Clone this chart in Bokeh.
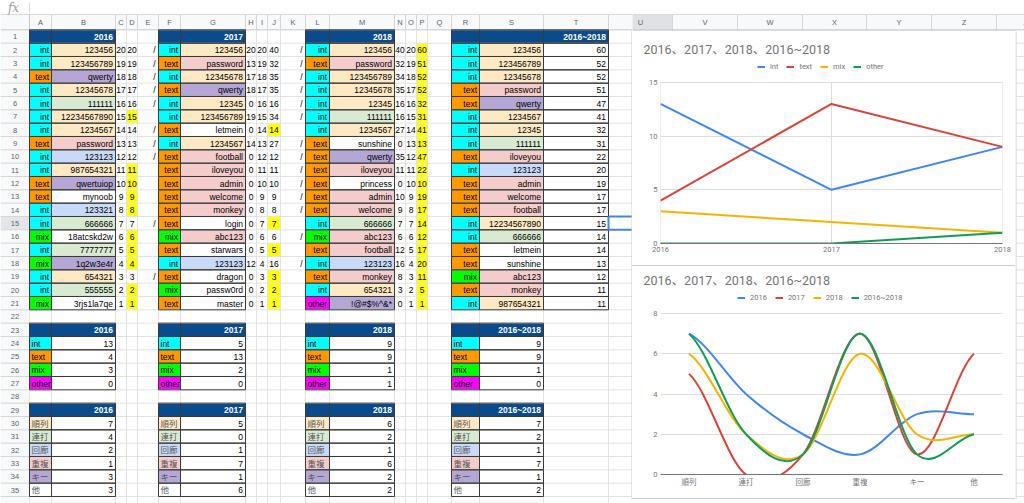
from bokeh.plotting import figure
from bokeh.models import Range1d, FixedTicker, Legend, LegendItem, Spacer
from bokeh.layouts import row, column
from bokeh.core.properties import value
from bokeh.embed import file_html
from bokeh.resources import INLINE

# ---------------------------------------------------------------- data
years = ["2016", "2017", "2018", "2016~2018"]

pw_2016 = ["123456", "123456789", "qwerty", "12345678", "111111", "12234567890", "1234567",
           "password", "123123", "987654321", "qwertuiop", "mynoob", "123321", "666666",
           "18atcskd2w", "7777777", "1q2w3e4r", "654321", "555555", "3rjs1la7qe"]
type_2016 = ["int", "int", "text", "int", "int", "int", "int", "text", "int", "int", "text",
             "text", "int", "int", "mix", "int", "mix", "int", "int", "mix"]
cat_2016 = ["順列", "順列", "キー", "順列", "連打", "順列", "順列", "重複", "回廊", "順列", "キー",
            "他", "回廊", "連打", "他", "連打", "キー", "順列", "連打", "他"]
c_2016 = [20, 19, 18, 17, 16, 15, 14, 13, 12, 11, 10, 9, 8, 7, 6, 5, 4, 3, 2, 1]
d_2016 = [20, 19, 18, 17, 16, 15, 14, 13, 12, 11, 10, 9, 8, 7, 6, 5, 4, 3, 2, 1]
mark_2016 = ["/", "/", "/", "/", "/", "", "/", "/", "/", "", "", "", "", "/", "", "", "", "/", "", ""]

pw_2017 = ["123456", "password", "12345678", "qwerty", "12345", "123456789", "letmein", "1234567",
           "football", "iloveyou", "admin", "welcome", "monkey", "login", "abc123", "starwars",
           "123123", "dragon", "passw0rd", "master"]
type_2017 = ["int", "text", "int", "text", "int", "int", "text", "int", "text", "text", "text",
             "text", "text", "text", "mix", "text", "int", "text", "mix", "text"]
cat_2017 = ["順列", "重複", "順列", "キー", "順列", "順列", "他", "順列", "重複", "重複", "重複",
            "重複", "重複", "他", "重複", "他", "回廊", "他", "他", "他"]
h_2017 = [20, 13, 17, 18, 0, 19, 0, 14, 0, 0, 0, 0, 0, 0, 0, 0, 12, 0, 0, 0]
i_2017 = [20, 19, 18, 17, 16, 15, 14, 13, 12, 11, 10, 9, 8, 7, 6, 5, 4, 3, 2, 1]
j_2017 = [40, 32, 35, 35, 16, 34, 14, 27, 12, 11, 10, 9, 8, 7, 6, 5, 16, 3, 2, 1]
mark_2017 = ["/", "/", "/", "/", "/", "/", "", "/", "/", "/", "/", "/", "/", "", "/", "", "/", "", "", ""]

pw_2018 = ["123456", "password", "123456789", "12345678", "12345", "111111", "1234567",
           "sunshine", "qwerty", "iloveyou", "princess", "admin", "welcome", "666666", "abc123",
           "football", "123123", "monkey", "654321", "!@#$%^&*"]
type_2018 = ["int", "text", "int", "int", "int", "int", "int", "text", "text", "text", "text",
             "text", "text", "int", "mix", "text", "int", "text", "int", "other"]
cat_2018 = ["順列", "重複", "順列", "順列", "順列", "連打", "順列", "他", "キー", "重複", "他",
            "重複", "重複", "連打", "重複", "重複", "回廊", "重複", "順列", "キー"]
n_2018 = [40, 32, 34, 35, 16, 16, 27, 0, 35, 11, 0, 10, 9, 7, 6, 12, 16, 8, 3, 0]
o_2018 = [20, 19, 18, 17, 16, 15, 14, 13, 12, 11, 10, 9, 8, 7, 6, 5, 4, 3, 2, 1]
p_2018 = [60, 51, 52, 52, 32, 31, 41, 13, 47, 22, 10, 19, 17, 14, 12, 17, 20, 11, 5, 1]

pw_all = ["123456", "123456789", "12345678", "password", "qwerty", "1234567", "12345", "111111",
          "iloveyou", "123123", "admin", "welcome", "football", "12234567890", "666666",
          "letmein", "sunshine", "abc123", "monkey", "987654321"]
type_all = ["int", "int", "int", "text", "text", "int", "int", "int", "text", "int", "text",
            "text", "text", "int", "int", "text", "text", "mix", "text", "int"]
cat_all = ["順列", "順列", "順列", "重複", "キー", "順列", "順列", "連打", "重複", "回廊", "重複",
           "重複", "重複", "順列", "連打", "他", "他", "重複", "重複", "順列"]
score_all = [60, 52, 52, 51, 47, 41, 32, 31, 22, 20, 19, 17, 17, 15, 14, 14, 13, 12, 11, 11]

type_labels = ["int", "text", "mix", "other"]
type_counts_2016 = [13, 4, 3, 0]
type_counts_2017 = [5, 13, 2, 0]
type_counts_2018 = [9, 9, 1, 1]
type_counts_all = [9, 9, 1, 0]

cat_labels = ["順列", "連打", "回廊", "重複", "キー", "他"]
cat_counts_2016 = [7, 4, 2, 1, 3, 3]
cat_counts_2017 = [5, 0, 1, 7, 1, 6]
cat_counts_2018 = [6, 2, 1, 6, 2, 2]
cat_counts_all = [7, 2, 1, 7, 1, 2]

chart1_years = [2016, 2017, 2018]
chart1_yticks = [0, 5, 10, 15]
chart2_yticks = [0, 2, 4, 6, 8]
chart_title = "2016、2017、2018、2016~2018"

# ---------------------------------------------------------------- styles
TYPE_COLORS = {"int": "#00ffff", "text": "#ff9900", "mix": "#00ff00", "other": "#ff00ff"}
CAT_COLORS = {"順列": "#fde9c4", "連打": "#d9ead3", "回廊": "#c9daf8", "重複": "#f4cccc",
              "キー": "#b4a7d6", "他": "#ffffff"}
HEAD = "#0b4a8b"
YEL = "#ffff00"
DARK = "#3a3a3a"
GRID = "#e2e3e3"
HDR_BG = "#f8f9fa"
HDR_LINE = "#c6c6c6"
BOX = "#cfcfcf"
FONT = "'Liberation Sans', 'Noto Sans CJK JP', sans-serif"
UIFONT = "Roboto, 'Noto Sans CJK JP', sans-serif"
SERIES = ["#4285f4", "#db4437", "#f4b400", "#0f9d58"]

COLS = ["A", "B", "C", "D", "E", "F", "G", "H", "I", "J", "K", "L", "M", "N", "O", "P", "Q",
        "R", "S", "T", "U"]
EDGES = [29, 51, 115, 126, 137, 158, 180, 245, 256, 267, 280, 305, 329, 394, 405, 416, 427,
         451, 479, 543, 608, 672]


def cl(c):
    return EDGES[COLS.index(c)]


def cr(c):
    return EDGES[COLS.index(c) + 1]


def cm(c):
    return (cl(c) + cr(c)) / 2


ROW0 = 29.33
RH = 13.333


def rt(n):
    return ROW0 + (n - 1) * RH


def rb(n):
    return rt(n) + RH


def rm(n):
    return rt(n) + RH / 2 + 0.4


def blank_fig(w, h, xr, yr):
    f = figure(width=w, height=h, x_range=Range1d(*xr), y_range=Range1d(*yr),
               output_backend="svg", toolbar_location=None, min_border=0,
               x_axis_location=None, y_axis_location=None)
    f.grid.visible = False
    f.outline_line_color = None
    f.background_fill_color = "white"
    f.border_fill_color = "white"
    return f


# ---------------------------------------------------------------- sheet figure
sheet = blank_fig(632, 503, (0, 632), (503, 0))

Q = {"l": [], "r": [], "t": [], "b": [], "c": []}


def quad(l, r, t, b, color):
    Q["l"].append(l); Q["r"].append(r); Q["t"].append(t); Q["b"].append(b); Q["c"].append(color)


def fill(c, n, color):
    quad(cl(c), cr(c), rt(n), rb(n), color)


SEG = {}


def seg(x0, y0, x1, y1, color, w=1):
    d = SEG.setdefault((color, w), {"x0": [], "y0": [], "x1": [], "y1": []})
    d["x0"].append(x0); d["y0"].append(y0); d["x1"].append(x1); d["y1"].append(y1)


def box(c, n):
    l, r, t, b = cl(c), cr(c), rt(n), rb(n)
    seg(l, t, r, t, DARK); seg(l, b, r, b, DARK); seg(l, t, l, b, DARK); seg(r, t, r, b, DARK)


TX = {}


def txt(x, y, s, align="left", color="#000000", style="normal", size="8.5px", font=FONT):
    d = TX.setdefault((align, color, style, size, font), {"x": [], "y": [], "t": []})
    d["x"].append(x); d["y"].append(y); d["t"].append(str(s))


def right(c, n, s, **kw):
    txt(cr(c) - 2.5, rm(n), s, align="right", **kw)


def left(c, n, s, **kw):
    txt(cl(c) + 2, rm(n), s, align="left", **kw)


def center(c, n, s, **kw):
    txt(cm(c), rm(n), s, align="center", **kw)


# formula bar + headers
quad(0, 640, 0, 14, "white")
quad(0, 640, 14, ROW0, HDR_BG)
quad(0, 29, ROW0, 510, HDR_BG)
quad(0, 29, rt(15), rb(15), "#e3e5e8")
seg(29, 2, 29, 12, "#dadce0")
txt(13, 7, "fx", align="center", color="#a0a0a0", style="italic", size="12px",
    font="'DejaVu Serif', serif")
seg(0, 14, 640, 14, "#dadce0")
for e in EDGES:
    seg(e, 14, e, ROW0, "#d6d6d6")
for c in COLS[:-1]:
    txt(cm(c), 21.8, c, align="center", color="#5f6368", size="7.5px")
for n in range(1, 37):
    seg(0, rb(n), 29, rb(n), "#d6d6d6")
for n in range(1, 36):
    txt(14.5, rm(n), n, align="center", color="#5f6368", size="7.5px")
seg(0, ROW0, 640, ROW0, HDR_LINE)
seg(29, 14, 29, 510, HDR_LINE)

# spreadsheet grid
for e in EDGES:
    seg(e, ROW0, e, 510, GRID)
for n in range(1, 37):
    seg(29, rb(n), 640, rb(n), GRID)

# ---- main tables (rows 1-21)
for cols in (["A", "B"], ["F", "G"], ["L", "M"], ["R", "S", "T"]):
    for c in cols:
        fill(c, 1, HEAD)
        box(c, 1)
right("B", 1, years[0], color="white", style="bold")
right("G", 1, years[1], color="white", style="bold")
right("M", 1, years[2], color="white", style="bold")
right("T", 1, years[3], color="white", style="bold")

for i in range(20):
    n = i + 2
    fill("A", n, TYPE_COLORS[type_2016[i]])
    fill("B", n, CAT_COLORS[cat_2016[i]])
    if mark_2016[i] == "":
        fill("D", n, YEL)
    box("A", n); box("B", n)
    right("A", n, type_2016[i]); right("B", n, pw_2016[i])
    center("C", n, c_2016[i]); center("D", n, d_2016[i])
    txt(cr("E") - 3, rm(n), mark_2016[i], align="right")

    fill("F", n, TYPE_COLORS[type_2017[i]])
    fill("G", n, CAT_COLORS[cat_2017[i]])
    if mark_2017[i] == "":
        fill("J", n, YEL)
    box("F", n); box("G", n)
    right("F", n, type_2017[i]); right("G", n, pw_2017[i])
    center("H", n, h_2017[i]); center("I", n, i_2017[i]); center("J", n, j_2017[i])
    txt(cr("K") - 3, rm(n), mark_2017[i], align="right")

    fill("L", n, TYPE_COLORS[type_2018[i]])
    fill("M", n, CAT_COLORS[cat_2018[i]])
    fill("P", n, YEL)
    box("L", n); box("M", n)
    right("L", n, type_2018[i]); right("M", n, pw_2018[i])
    center("N", n, n_2018[i]); center("O", n, o_2018[i]); center("P", n, p_2018[i])

    fill("R", n, TYPE_COLORS[type_all[i]])
    fill("S", n, CAT_COLORS[cat_all[i]])
    fill("T", n, "white")
    box("R", n); box("S", n); box("T", n)
    right("R", n, type_all[i]); right("S", n, pw_all[i]); right("T", n, score_all[i])

# ---- summary tables
summaries = [("A", "B", years[0], type_counts_2016, cat_counts_2016),
             ("F", "G", years[1], type_counts_2017, cat_counts_2017),
             ("L", "M", years[2], type_counts_2018, cat_counts_2018),
             ("R", "S", years[3], type_counts_all, cat_counts_all)]
for lc, vc, yr, tc, cc in summaries:
    for hr in (23, 29):
        fill(lc, hr, HEAD); fill(vc, hr, HEAD)
        box(lc, hr); box(vc, hr)
        right(vc, hr, yr, color="white", style="bold")
    for k, lab in enumerate(type_labels):
        n = 24 + k
        fill(lc, n, TYPE_COLORS[lab]); fill(vc, n, "white")
        box(lc, n); box(vc, n)
        left(lc, n, lab); right(vc, n, tc[k])
    for k, lab in enumerate(cat_labels):
        n = 30 + k
        fill(lc, n, CAT_COLORS[lab]); fill(vc, n, "white")
        box(lc, n); box(vc, n)
        left(lc, n, lab, color="#555555"); right(vc, n, cc[k])

sheet.quad(left=Q["l"], right=Q["r"], top=Q["t"], bottom=Q["b"], fill_color=Q["c"], line_color=None)

order = sorted(SEG.keys(), key=lambda k: 1 if k[0] == DARK else 0)
for key in order:
    d = SEG[key]
    sheet.segment(x0=d["x0"], y0=d["y0"], x1=d["x1"], y1=d["y1"], line_color=key[0], line_width=key[1])

# selected cell U15 (partly behind the chart) and the chart's left border
sheet.segment(x0=[608, 608, 608], y0=[rt(15), rb(15), rt(15)], x1=[640, 640, 608], y1=[rt(15), rb(15), rb(15)],
              line_color="#4285f4", line_width=2)
sheet.quad(left=[632], right=[640], top=[30.5], bottom=[498.5], fill_color="white", line_color=None)
sheet.segment(x0=[631.5], y0=[30], x1=[631.5], y1=[498.5], line_color=BOX, line_width=1)

for (align, color, style, size, font), d in TX.items():
    sheet.text(x=d["x"], y=d["y"], text=d["t"], text_align=align, text_baseline="middle",
               text_color=color, text_font_style=style, text_font_size=size, text_font=value(font))

# ---------------------------------------------------------------- top strip (right of sheet)
RCOLS = ["U", "V", "W", "X", "Y", "Z", "AA"]
REDGES = [608, 672, 737, 802, 866, 931, 996, 1060]
strip = blank_fig(392, 31, (632, 1024), (31, 0))
strip.quad(left=[600, 600], right=[1100, 672], top=[14, 14], bottom=[ROW0, ROW0],
           fill_color=[HDR_BG, "#dfe1e5"], line_color=None)
strip.segment(x0=REDGES, y0=[14] * 8, x1=REDGES, y1=[ROW0] * 8, line_color="#d6d6d6")
strip.segment(x0=REDGES, y0=[ROW0] * 8, x1=REDGES, y1=[31] * 8, line_color=GRID)
strip.segment(x0=[600, 600, 632], y0=[14, ROW0, 30.5], x1=[1100, 1100, 1015.5], y1=[14, ROW0, 30.5],
              line_color=["#dadce0", HDR_LINE, BOX])
strip.segment(x0=[1015.5], y0=[30.5], x1=[1015.5], y1=[31], line_color=BOX)
strip.text(x=[(REDGES[k] + REDGES[k + 1]) / 2 for k in range(len(RCOLS))], y=[21.8] * len(RCOLS),
           text=RCOLS, text_align="center", text_baseline="middle", text_color="#5f6368",
           text_font_size="7.5px", text_font=value(FONT))

# ---------------------------------------------------------------- slivers of sheet beside / below the charts
side = blank_fig(9, 472, (1015, 1024), (503, 31))
side.segment(x0=[1016] * 36, y0=[rb(n) for n in range(1, 37)], x1=[1030] * 36,
             y1=[rb(n) for n in range(1, 37)], line_color=GRID)
side.segment(x0=[1015.5], y0=[30], x1=[1015.5], y1=[498.5], line_color=BOX)

bottom = blank_fig(383, 4, (632, 1015), (503, 499))
bottom.segment(x0=REDGES[1:], y0=[499] * 7, x1=REDGES[1:], y1=[503] * 7, line_color=GRID)

# ---------------------------------------------------------------- charts
PLOT_H = 161      # height of the plotting area proper
HEAD_H = 22       # extra frame room above it that holds the legend
FRAME_H = PLOT_H + HEAD_H


def style_chart(p):
    p.outline_line_color = None
    p.background_fill_color = "white"
    p.border_fill_color = "white"
    p.title.text_font = UIFONT
    p.title.text_font_size = "12.5px"
    p.title.text_font_style = "normal"
    p.title.text_color = "#757575"
    p.title.align = "left"
    p.title.offset = -17
    p.title.standoff = 7
    for ax in (p.xaxis[0], p.yaxis[0]):
        ax.major_tick_line_color = None
        ax.minor_tick_line_color = None
        ax.major_tick_out = 0
        ax.major_tick_in = 0
        ax.minor_tick_out = 0
        ax.minor_tick_in = 0
        ax.major_label_text_font = UIFONT
        ax.major_label_text_font_size = "7.5px"
        ax.major_label_text_color = "#757575"
    p.xaxis.axis_line_color = "#757575"
    p.yaxis.axis_line_color = None
    p.xaxis.major_label_standoff = 3
    p.yaxis.major_label_standoff = 3
    p.grid.grid_line_color = "#dddddd"


def add_legend(p, labels, renderers, x_left):
    leg = Legend(items=[LegendItem(label=l, renderers=[r]) for l, r in zip(labels, renderers)],
                 orientation="horizontal", location=(x_left, PLOT_H + 11),
                 label_text_font=UIFONT, label_text_font_size="7.5px", label_text_color="#757575",
                 glyph_width=8, glyph_height=9, label_height=9, label_width=0, label_standoff=5,
                 spacing=8, padding=0, margin=0, border_line_color=None, background_fill_alpha=0)
    p.add_layout(leg, "center")


# chart 1: counts per type per year
c1 = figure(width=383, height=234, x_range=Range1d(chart1_years[0], chart1_years[-1]),
            y_range=Range1d(0, chart1_yticks[-1] * FRAME_H / PLOT_H),
            output_backend="svg", toolbar_location=None,
            min_border_left=28, min_border_right=13, min_border_top=29, min_border_bottom=22,
            title=chart_title)
style_chart(c1)
c1.xaxis.ticker = FixedTicker(ticks=chart1_years)
c1.xgrid.visible = False
c1.yaxis.ticker = FixedTicker(ticks=chart1_yticks)
c1.ygrid.ticker = FixedTicker(ticks=chart1_yticks)
c1.segment(x0=chart1_years, y0=[0] * 3, x1=chart1_years, y1=[chart1_yticks[-1]] * 3,
           line_color="#dddddd", line_width=1)
per_year = [type_counts_2016, type_counts_2017, type_counts_2018]
rs1 = []
for k, lab in enumerate(type_labels):
    vals = [per_year[j][k] for j in range(3)]
    rs1.append(c1.line(x=chart1_years, y=vals, line_color=SERIES[k], line_width=2))
add_legend(c1, type_labels, rs1, 97)

# chart 2: counts per pattern, smooth curves (Catmull-Rom drawn as cubic Bezier segments)
c2 = figure(width=383, height=232, x_range=Range1d(0, len(cat_labels)),
            y_range=Range1d(0, chart2_yticks[-1] * FRAME_H / PLOT_H),
            output_backend="svg", toolbar_location=None,
            min_border_left=28, min_border_right=13, min_border_top=25, min_border_bottom=24,
            title=chart_title)
style_chart(c2)
xpos = [k + 0.5 for k in range(len(cat_labels))]
c2.xaxis.ticker = FixedTicker(ticks=xpos)
c2.xaxis.major_label_overrides = {x: lab for x, lab in zip(xpos, cat_labels)}
c2.xgrid.visible = False
c2.yaxis.ticker = FixedTicker(ticks=chart2_yticks)
c2.ygrid.ticker = FixedTicker(ticks=chart2_yticks)
rs2 = []
for k, vals in enumerate([cat_counts_2016, cat_counts_2017, cat_counts_2018, cat_counts_all]):
    m = len(vals)
    tang = []
    for i in range(m):
        a = vals[max(i - 1, 0)]
        b = vals[min(i + 1, m - 1)]
        tang.append((b - a) / 2)
    x0 = xpos[:-1]; x1 = xpos[1:]
    y0 = vals[:-1]; y1 = vals[1:]
    cx0 = [x + 1 / 3 for x in x0]
    cx1 = [x - 1 / 3 for x in x1]
    cy0 = [vals[i] + tang[i] / 3 for i in range(m - 1)]
    cy1 = [vals[i + 1] - tang[i + 1] / 3 for i in range(m - 1)]
    rs2.append(c2.bezier(x0=x0, y0=y0, x1=x1, y1=y1, cx0=cx0, cy0=cy0, cx1=cx1, cy1=cy1,
                         line_color=SERIES[k], line_width=2))
add_legend(c2, years, rs2, 77)

sep = Spacer(width=383, height=1, styles={"background-color": BOX})
sep2 = Spacer(width=383, height=1, styles={"background-color": BOX})

layout = row(sheet, column(strip, row(column(c1, sep, c2, sep2, bottom), side)))

open("out.html", "w").write(file_html(layout, INLINE))
